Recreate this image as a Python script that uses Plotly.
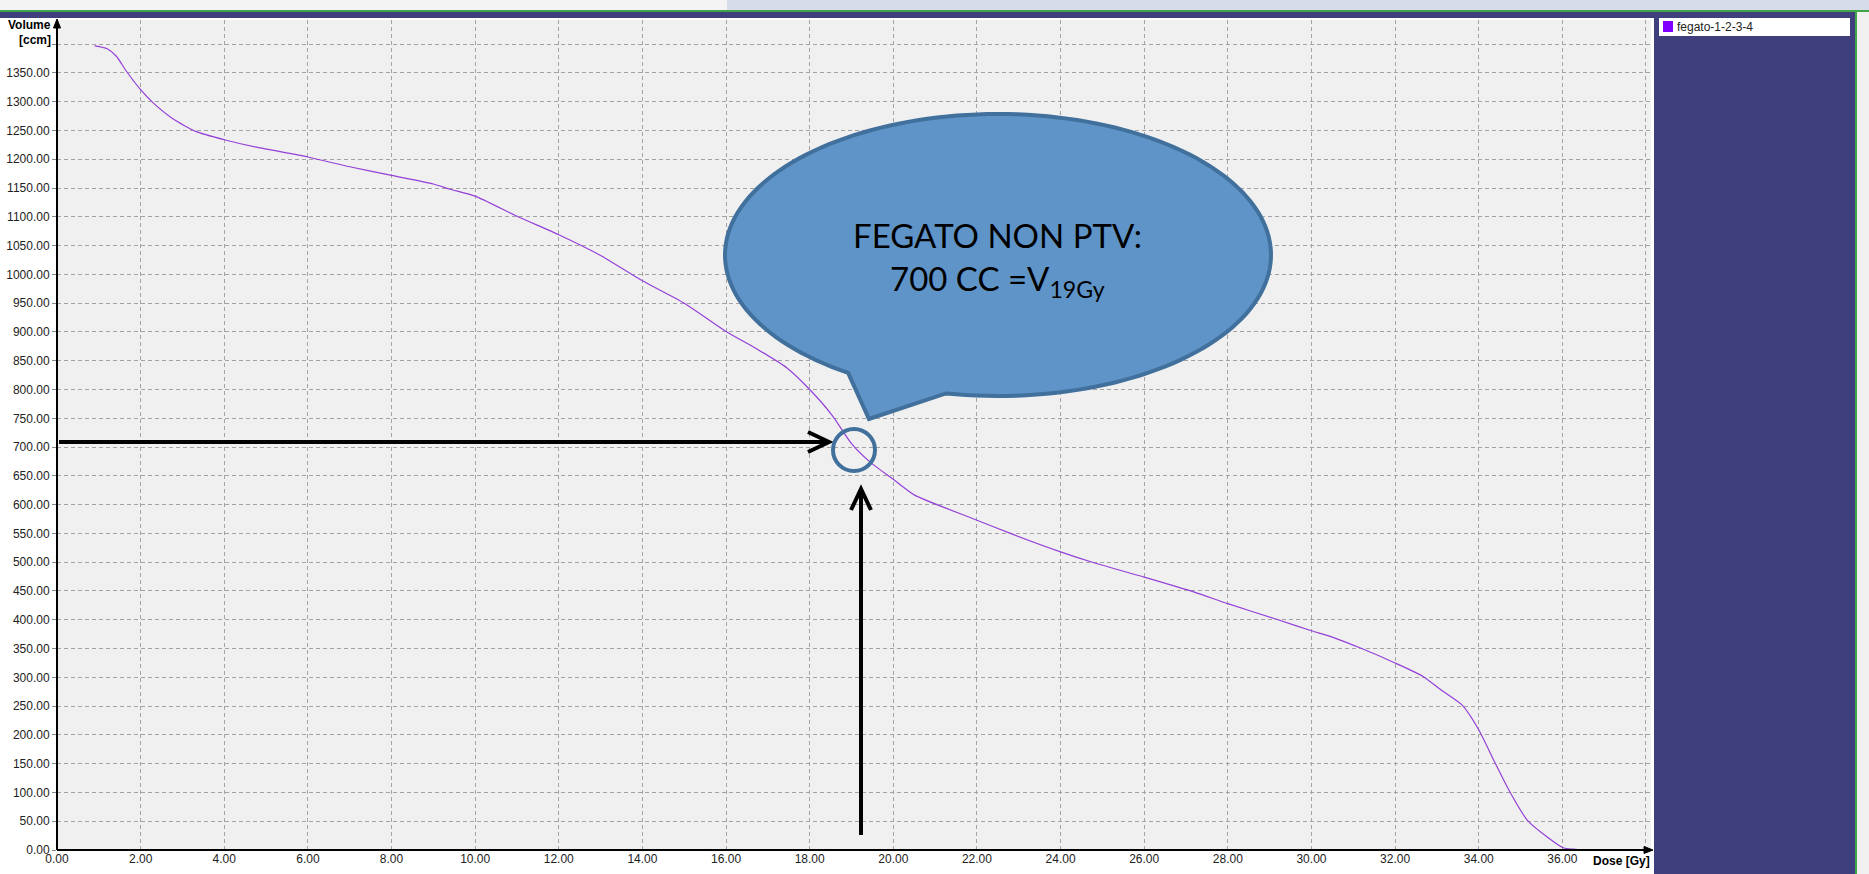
import numpy as np
import plotly.graph_objects as go

# ---------------- data ----------------
dose_gy = [0.9, 1.2, 1.42, 1.66, 2.0, 2.3, 2.78, 3.33, 4.0, 4.77, 6.0, 7.0, 8.0, 9.0, 9.4,
           10.0, 11.0, 12.0, 13.0, 14.0, 15.0, 16.0, 16.75, 17.45, 18.0, 18.55, 19.0, 19.46,
           20.0, 20.5, 22.0, 22.8, 24.0, 24.8, 26.0, 27.2, 28.0, 29.2, 30.0, 30.53, 31.2,
           32.0, 32.66, 33.1, 33.6, 34.0, 34.36, 34.76, 35.16, 35.63, 36.02, 36.34]
volume_ccm = [1397, 1392, 1379, 1353, 1321, 1298, 1270, 1248, 1234, 1221, 1204, 1187, 1172,
              1157, 1148, 1136, 1101, 1069, 1033, 989, 950, 901, 870, 838, 800, 754, 706, 673,
              644, 617, 573, 550, 518, 499, 474, 448, 428, 400, 381, 369, 350, 325, 302, 278,
              252, 209, 156, 99, 52, 23, 4, 1]

x_tick_vals = [0, 2, 4, 6, 8, 10, 12, 14, 16, 18, 20, 22, 24, 26, 28, 30, 32, 34, 36]
x_tick_text = ["%.2f" % v for v in x_tick_vals]
y_tick_vals = [50 * i for i in range(28)]
y_tick_text = ["%.2f" % v for v in y_tick_vals]

series_name = "fegato-1-2-3-4"
callout_line1 = "FEGATO NON PTV:"
callout_line2 = "700 CC =V<sub>19Gy</sub>"

# ---------------- geometry helpers (pixels -> paper) ----------------
W, H = 1869, 874
L, R_EDGE, T, B_EDGE = 57, 1651, 20, 850
PW, PH = R_EDGE - L, B_EDGE - T


def px(X):
    return (X - L) / PW


def py(Y):
    return (B_EDGE - Y) / PH


def path_from(points, close=True):
    s = "M " + " L ".join("%.5f,%.5f" % (px(a), py(b)) for a, b in points)
    return s + (" Z" if close else "")


fig = go.Figure()
fig.add_trace(go.Scatter(x=dose_gy, y=volume_ccm, mode="lines", name=series_name,
                         line=dict(color="#9440d8", width=1.2, shape="spline", smoothing=0.6),
                         showlegend=False, hoverinfo="skip"))

shapes = []
# window chrome: toolbar, green line, dark band
shapes.append(dict(type="rect", xref="paper", yref="paper", x0=px(0), x1=px(727), y0=py(10), y1=py(0),
                   fillcolor="#f4f4f4", line_width=0, layer="above"))
shapes.append(dict(type="rect", xref="paper", yref="paper", x0=px(727), x1=px(W), y0=py(10), y1=py(0),
                   fillcolor="#d6dce9", line_width=0, layer="above"))
shapes.append(dict(type="rect", xref="paper", yref="paper", x0=px(0), x1=px(W), y0=py(12), y1=py(10),
                   fillcolor="#3fa548", line_width=0, layer="above"))
shapes.append(dict(type="rect", xref="paper", yref="paper", x0=px(0), x1=px(W), y0=py(18), y1=py(12),
                   fillcolor="#3f3f7d", line_width=0, layer="above"))
# right dark panel
shapes.append(dict(type="rect", xref="paper", yref="paper", x0=px(1654), x1=px(1855), y0=py(H), y1=py(12),
                   fillcolor="#3f3f7d", line_width=0, layer="above"))
shapes.append(dict(type="rect", xref="paper", yref="paper", x0=px(1855), x1=px(1857), y0=py(H), y1=py(12),
                   fillcolor="#3fa548", line_width=0, layer="above"))
shapes.append(dict(type="rect", xref="paper", yref="paper", x0=px(1857), x1=px(W), y0=py(H), y1=py(12),
                   fillcolor="#f0f0f0", line_width=0, layer="above"))
# legend box
shapes.append(dict(type="rect", xref="paper", yref="paper", x0=px(1659), x1=px(1850), y0=py(36), y1=py(18),
                   fillcolor="white", line_width=0, layer="above"))
shapes.append(dict(type="rect", xref="paper", yref="paper", x0=px(1663), x1=px(1673), y0=py(32), y1=py(21),
                   fillcolor="#8000ff", line_width=0, layer="above"))
# axis lines with arrowheads
shapes.append(dict(type="line", xref="paper", yref="paper", x0=px(57), x1=px(57), y0=py(850), y1=py(24),
                   line=dict(color="black", width=2), layer="above"))
shapes.append(dict(type="line", xref="paper", yref="paper", x0=px(57), x1=px(1646), y0=py(850), y1=py(850),
                   line=dict(color="black", width=2), layer="above"))
shapes.append(dict(type="path", xref="paper", yref="paper",
                   path=path_from([(53.5, 28), (57, 19), (60.5, 28)]),
                   fillcolor="black", line=dict(color="black", width=1), layer="above"))
shapes.append(dict(type="path", xref="paper", yref="paper",
                   path=path_from([(1644, 846.5), (1653, 850), (1644, 853.5)]),
                   fillcolor="black", line=dict(color="black", width=1), layer="above"))

# speech bubble callout
cx, cy, rx, ry = 998, 255, 273, 141
ts = np.radians(np.linspace(101, 123.3 - 360, 160))
bubble = [(cx + rx * np.cos(t), cy + ry * np.sin(t)) for t in ts] + [(869, 419)]
shapes.append(dict(type="path", xref="paper", yref="paper", path=path_from(bubble),
                   fillcolor="#5f94c8", line=dict(color="#41709c", width=4), layer="above"))

# arrows
shapes.append(dict(type="line", xref="paper", yref="paper", x0=px(59), x1=px(828), y0=py(442), y1=py(442),
                   line=dict(color="black", width=4), layer="above"))
shapes.append(dict(type="path", xref="paper", yref="paper",
                   path=path_from([(808, 432), (829, 442), (808, 452)], close=False),
                   line=dict(color="black", width=4), layer="above"))
shapes.append(dict(type="line", xref="paper", yref="paper", x0=px(861), x1=px(861), y0=py(835), y1=py(490),
                   line=dict(color="black", width=4), layer="above"))
shapes.append(dict(type="path", xref="paper", yref="paper",
                   path=path_from([(851, 510), (861, 489), (871, 510)], close=False),
                   line=dict(color="black", width=4), layer="above"))
# circle marker
shapes.append(dict(type="circle", xref="paper", yref="paper", x0=px(854 - 21), x1=px(854 + 21),
                   y0=py(450 + 21), y1=py(450 - 21), line=dict(color="#41709c", width=4),
                   fillcolor="rgba(0,0,0,0)", layer="above"))

annotations = [
    dict(text="<b>Volume</b>", xref="paper", yref="paper", x=px(53), y=py(25), xanchor="right",
         yanchor="middle", showarrow=False, font=dict(family="Liberation Sans", size=12, color="black")),
    dict(text="<b>[ccm]</b>", xref="paper", yref="paper", x=px(53), y=py(40), xanchor="right",
         yanchor="middle", showarrow=False, font=dict(family="Liberation Sans", size=12, color="black")),
    dict(text="<b>Dose [Gy]</b>", xref="paper", yref="paper", x=px(1652), y=py(861), xanchor="right",
         yanchor="middle", showarrow=False, font=dict(family="Liberation Sans", size=12, color="black")),
    dict(text=series_name, xref="paper", yref="paper", x=px(1675), y=py(27), xanchor="left",
         yanchor="middle", showarrow=False, font=dict(family="Liberation Sans", size=12, color="#222")),
    dict(text=callout_line1, xref="paper", yref="paper", x=px(998), y=py(235), xanchor="center",
         yanchor="middle", showarrow=False, font=dict(family="Lato", size=33, color="black")),
    dict(text=callout_line2, xref="paper", yref="paper", x=px(998), y=py(280), xanchor="center",
         yanchor="middle", showarrow=False, font=dict(family="Lato", size=33, color="black")),
]

grid_style = dict(showgrid=True, gridcolor="#a3a3a3", griddash="4px,3px", gridwidth=1)

fig.update_layout(
    width=W, height=H,
    margin=dict(l=L, r=W - R_EDGE, t=T, b=H - B_EDGE, pad=0),
    paper_bgcolor="white", plot_bgcolor="#f0f0f0",
    showlegend=False,
    xaxis=dict(range=[0, 38.12], tickmode="array", tickvals=x_tick_vals, ticktext=x_tick_text,
               zeroline=False, showline=False, ticks="", automargin=False,
               minor=dict(dtick=2, tick0=0, ticks="", **grid_style),
               tickfont=dict(family="Liberation Sans", size=12, color="#222"), **grid_style),
    yaxis=dict(range=[0, 1442], tickmode="array", tickvals=y_tick_vals, ticktext=y_tick_text,
               zeroline=False, showline=False, ticks="outside", ticklen=4, tickcolor="#888",
               automargin=False,
               minor=dict(dtick=50, tick0=0, ticks="outside", ticklen=4, tickcolor="#888", **grid_style),
               tickfont=dict(family="Liberation Sans", size=12, color="#222"), **grid_style),
    shapes=shapes,
    annotations=annotations,
)

fig.write_html("out.html", config={"displayModeBar": False})

# remove the browser's default page margin so the figure sits at the window origin
with open("out.html", "r", encoding="utf-8") as f:
    html = f.read()
html = html.replace("<body>", '<body style="margin:0;padding:0;overflow:hidden">', 1)
with open("out.html", "w", encoding="utf-8") as f:
    f.write(html)
